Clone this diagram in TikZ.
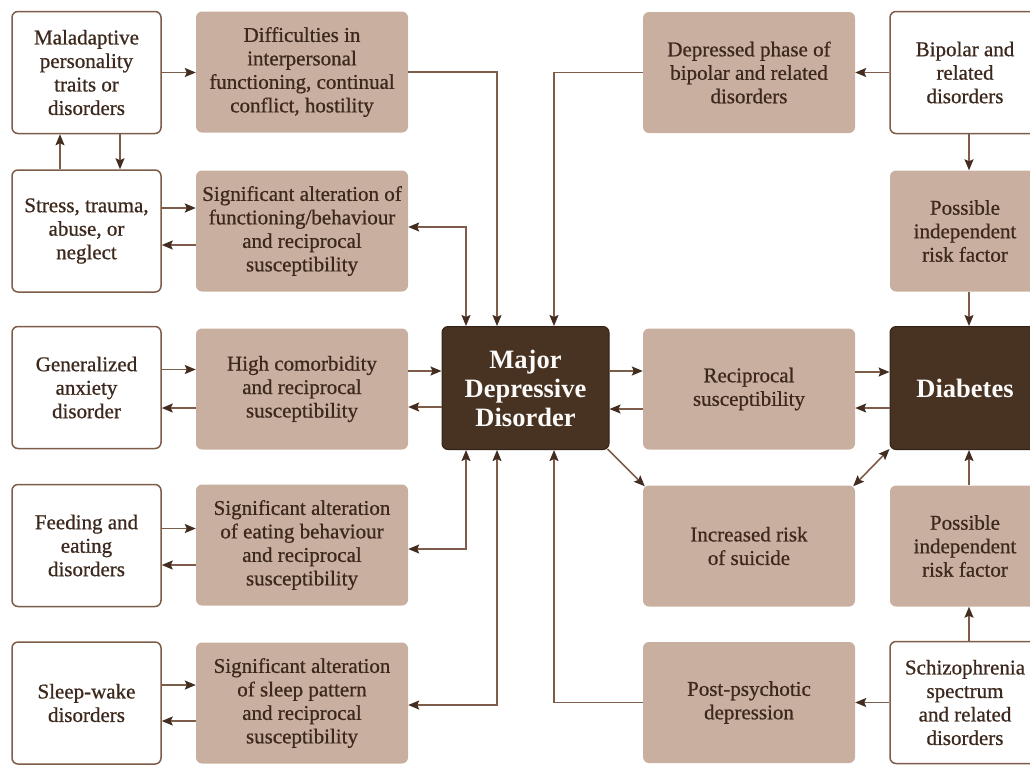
\documentclass[tikz,border=0pt]{standalone}
\usepackage{fontspec}
\setmainfont{Liberation Serif}
\newfontfamily\medfont{Liberation Serif}[FakeBold=0.7]
\usetikzlibrary{arrows.meta,calc}
\definecolor{tanC}{RGB}{201,175,160}
\definecolor{darkC}{RGB}{72,50,34}
\definecolor{lineC}{RGB}{125,92,73}
\definecolor{tipC}{RGB}{66,45,32}
\definecolor{txtC}{RGB}{60,40,28}
\newcommand{\nf}{\fontsize{21}{23.5}\medfont}
\newcommand{\bfnt}{\fontsize{26.5}{29}\selectfont\bfseries}
\tikzset{
  base/.style={rounded corners=6pt, align=center, inner sep=0pt, font=\nf, text=txtC},
  wbox/.style={base, draw=lineC, line width=1.5pt, fill=white, minimum width=149pt, minimum height=122pt},
  wboxr/.style={base, draw=lineC, line width=1.5pt, fill=white, minimum width=150pt, minimum height=122pt},
  tbox/.style={base, fill=tanC, minimum width=212pt, minimum height=121pt},
  tboxr/.style={base, fill=tanC, minimum width=150pt, minimum height=121pt},
  dbox/.style={base, fill=darkC, draw=darkC!70!black, line width=1pt, minimum height=123pt, text=white!95!tanC, font=\bfnt},
  tip/.style={Stealth[length=11pt,width=9pt,inset=2pt,color=tipC]},
  arr/.style={draw=lineC, line width=1.6pt, -{Stealth[length=11pt,width=9pt,inset=2pt,color=tipC]}},
  arrb/.style={draw=lineC, line width=1.6pt, {Stealth[length=11pt,width=9pt,inset=2pt,color=tipC]}-{Stealth[length=11pt,width=9pt,inset=2pt,color=tipC]}},
}
\begin{document}
\begin{tikzpicture}[x=1pt,y=-1pt]
\useasboundingbox (0,0) rectangle (1030,764);
\clip (0,0) rectangle (1030,764);
% column 1 (white)
\node[wbox] (mal) at (86.5,72.5) {Maladaptive\\personality\\traits or\\disorders};
\node[wbox] (str) at (86.5,231) {Stress, trauma,\\abuse, or\\neglect};
\node[wbox] (gen) at (86.5,387.5) {Generalized\\anxiety\\disorder};
\node[wbox] (fee) at (86.5,545.5) {Feeding and\\eating\\disorders};
\node[wbox] (slw) at (86.5,703) {Sleep-wake\\disorders};
% column 2 (tan)
\node[tbox] (dif) at (302,72) {Difficulties in\\interpersonal\\functioning, continual\\conflict, hostility};
\node[tbox] (sig) at (302,231) {Significant alteration of\\functioning/behaviour\\and reciprocal\\susceptibility};
\node[tbox] (hc) at (302,389) {High comorbidity\\and reciprocal\\susceptibility};
\node[tbox] (eat) at (302,545) {Significant alteration\\of eating behaviour\\and reciprocal\\susceptibility};
\node[tbox] (sla) at (302,703) {Significant alteration\\of sleep pattern\\and reciprocal\\susceptibility};
% centre
\node[dbox, minimum width=167pt] (mdd) at (525.5,388) {Major\\Depressive\\Disorder};
% column 4 (tan)
\node[tbox] (dep) at (749,72.5) {Depressed phase of\\bipolar and related\\disorders};
\node[tbox] (rec) at (749,389) {Reciprocal\\susceptibility};
\node[tbox] (inc) at (749,546) {Increased risk\\of suicide};
\node[tbox] (pps) at (749,702.5) {Post-psychotic\\depression};
% column 5
\node[wboxr] (bip) at (965,72.5) {Bipolar and\\related\\disorders};
\node[tboxr] (pi1) at (965,231) {Possible\\independent\\risk factor};
\node[dbox, minimum width=150pt] (dia) at (965,388) {Diabetes};
\node[tboxr] (pi2) at (965,546) {Possible\\independent\\risk factor};
\node[wboxr] (sch) at (965,702.5) {Schizophrenia\\spectrum\\and related\\disorders};
% left connectors
\draw[arr] (mal.east) -- (mal.east -| dif.west);
\draw[arr] ([xshift=-26.5pt]str.north) -- ([xshift=-26.5pt]mal.south);
\draw[arr] ([xshift=33.5pt]mal.south) -- ([xshift=33.5pt]str.north);
\draw[arr] ([yshift=23pt]str.east) -- ([yshift=23pt]str.east -| sig.west);
\draw[arr] ([yshift=-14pt]sig.west) -- ([yshift=-14pt]sig.west -| str.east);
\draw[arr] ([yshift=18pt]gen.east) -- ([yshift=18pt]gen.east -| hc.west);
\draw[arr] ([yshift=-19pt]hc.west) -- ([yshift=-19pt]hc.west -| gen.east);
\draw[arr] ([yshift=17pt]fee.east) -- ([yshift=17pt]fee.east -| eat.west);
\draw[arr] ([yshift=-20pt]eat.west) -- ([yshift=-20pt]eat.west -| fee.east);
\draw[arr] ([yshift=18pt]slw.east) -- ([yshift=18pt]slw.east -| sla.west);
\draw[arr] ([yshift=-18pt]sla.west) -- ([yshift=-18pt]sla.west -| slw.east);
% into MDD
\draw[arr] (dif.east) -| ([xshift=-28.5pt]mdd.north);
\draw[arrb] ([yshift=4pt]sig.east) -| ([xshift=-59.5pt]mdd.north);
\draw[arr] (dep.west) -| ([xshift=28.5pt]mdd.north);
\draw[arrb] ([yshift=-4pt]eat.east) -| ([xshift=-59.5pt]mdd.south);
\draw[arrb] ([yshift=-2pt]sla.east) -| ([xshift=-28.5pt]mdd.south);
\draw[arr] (pps.west) -| ([xshift=28.5pt]mdd.south);
\draw[arr] ([yshift=18pt]hc.east) -- ([yshift=18pt]hc.east -| mdd.west);
\draw[arr] ([yshift=-19pt]mdd.west) -- ([yshift=-19pt]mdd.west -| hc.east);
\draw[arr] ([yshift=17pt]mdd.east) -- ([yshift=17pt]mdd.east -| rec.west);
\draw[arr] ([yshift=-20pt]rec.west) -- ([yshift=-20pt]rec.west -| mdd.east);
\draw[arr] ([yshift=17pt]rec.east) -- ([yshift=17pt]rec.east -| dia.west);
\draw[arr] ([yshift=-20pt]dia.west) -- ([yshift=-20pt]dia.west -| rec.east);
\draw[arr] ([shift={(-2pt,1pt)}]mdd.south east) -- ([shift={(2pt,-1pt)}]inc.north west);
\draw[arrb] ([shift={(0pt,1pt)}]dia.south west) -- ([shift={(-2pt,-1pt)}]inc.north east);
% right column
\draw[arr] (bip.west) -- (bip.west -| dep.east);
\draw[arr] (sch.west) -- (sch.west -| pps.east);
\draw[arr] ([xshift=4pt]bip.south) -- ([xshift=4pt]pi1.north);
\draw[arr] ([xshift=4pt]pi1.south) -- ([xshift=4pt]dia.north);
\draw[arr] ([xshift=4pt]pi2.north) -- ([xshift=4pt]dia.south);
\draw[arr] ([xshift=4pt]sch.north) -- ([xshift=4pt]pi2.south);
\end{tikzpicture}
\end{document}
